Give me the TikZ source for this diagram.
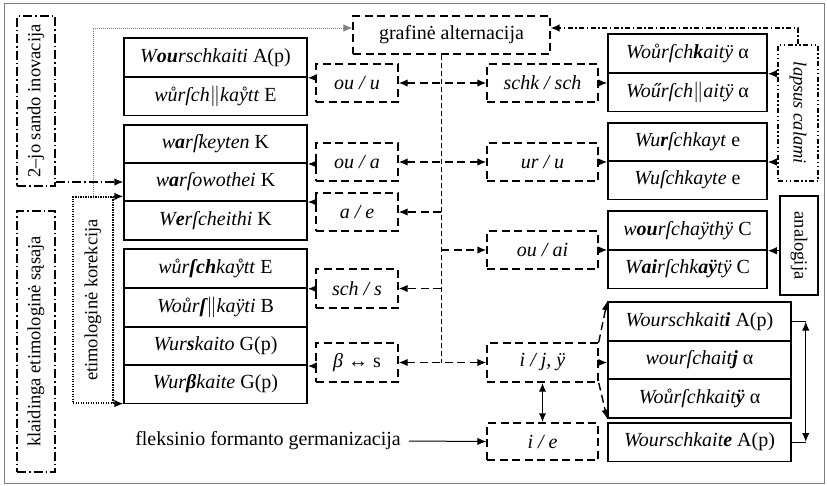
\documentclass[tikz,border=0pt]{standalone}
\usepackage{fontspec}
\setmainfont{Liberation Serif}
\usetikzlibrary{arrows.meta,calc}
\begin{document}
\begin{tikzpicture}[x=1pt,y=-1pt,
  >={Latex[length=9pt,width=7.5pt]},
  every node/.style={font=\fontsize{20}{24}\selectfont, inner sep=0pt},
  side/.style={font=\fontsize{18.5}{22}\selectfont},
  cell/.style={draw, line width=1.5pt, minimum width=183pt, minimum height=38.5pt},
  rcell/.style={cell, minimum width=159pt},
  dbox/.style={draw, line width=1.4pt, dash pattern=on 8pt off 4.5pt, minimum height=38pt},
  mlbox/.style={dbox, minimum width=82pt},
  mrbox/.style={dbox, minimum width=111pt},
  dline/.style={line width=1.4pt, dash pattern=on 8pt off 4.5pt},
  cline/.style={line width=0.7pt, dash pattern=on 5pt off 3pt},
  sline/.style={line width=1.4pt},
  ddbox/.style={draw, line width=1.2pt, dash pattern=on 9pt off 3pt on 1.5pt off 3pt},
  dddbox/.style={draw, line width=1.1pt, dash pattern=on 5pt off 2.5pt on 1.5pt off 2.5pt on 1.5pt off 2.5pt},
  dotbox/.style={draw, line width=1.2pt, dash pattern=on 1.2pt off 1.3pt},
  sbox/.style={draw, line width=1.4pt}
]
\useasboundingbox (0,0) rectangle (827,485);
\draw[gray, line width=0.8pt] (4,3) rectangle (824,483);

% left column
\node[cell, minimum height=39pt] (L1) at (215.5,57.5) {\textit{W\textbf{ou}rschkaiti} A(p)};
\node[cell] (L2) at (215.5,96) {\textit{wůrſch$\|$kaẙtt} E};
\node[cell] (L3) at (215.5,144) {\textit{w\textbf{a}rſkeyten} K};
\node[cell] (L4) at (215.5,182) {\textit{w\textbf{a}rſowothei} K};
\node[cell, minimum height=39pt] (L5) at (215.5,220.5) {\textit{W\textbf{e}rſcheithi} K};
\node[cell, minimum height=39pt] (L6) at (215.5,268.5) {\textit{wůr\textbf{ſch}kaẙtt} E};
\node[cell, minimum height=39pt] (L7) at (215.5,307.5) {\textit{Woůr\textbf{ſ}$\|$kaÿti} B};
\node[cell] (L8) at (215.5,346) {\textit{Wur\textbf{s}kaito} G(p)};
\node[cell] (L9) at (215.5,384) {\textit{Wur\textbf{β}kaite} G(p)};

% middle-left
\node[mlbox] (ML1) at (357,83) {\textit{ou / u}};
\node[mlbox] (ML2) at (357,162) {\textit{ou / a}};
\node[mlbox] (ML3) at (357,212) {\textit{a / e}};
\node[mlbox, minimum height=39pt] (ML4) at (357,288.5) {\textit{sch / s}};
\node[mlbox, minimum height=39pt] (ML5) at (357,362.5) {\textit{β} ↔ s};

% grafine
\node[dbox, minimum width=197pt] (G) at (451.5,35) {grafinė alternacija};

% middle-right
\node[mrbox] (MR1) at (542.5,83) {\textit{schk / sch}};
\node[mrbox] (MR2) at (542.5,162) {\textit{ur / u}};
\node[mrbox] (MR3) at (542.5,250) {\textit{ou / ai}};
\node[mrbox, minimum height=39pt] (MR4) at (542.5,362.5) {\textit{i / j, ÿ}};
\node[mrbox, minimum height=37pt] (MR5) at (542.5,441.5) {\textit{i / e}};

% right column
\node[rcell, minimum height=39pt] (R1a) at (687.5,53.5) {\textit{Woůrſch\textbf{k}aitÿ} α};
\node[rcell] (R1b) at (687.5,92) {\textit{Woűrſch$\|$aitÿ} α};
\node[rcell] (R2a) at (687.5,142) {\textit{Wu\textbf{r}ſchkayt} e};
\node[rcell] (R2b) at (687.5,180) {\textit{Wuſchkayte} e};
\node[rcell, minimum height=39pt] (R3a) at (687.5,230.5) {\textit{w\textbf{ou}rſchaÿthÿ} C};
\node[rcell] (R3b) at (687.5,269) {\textit{W\textbf{ai}rſchk\textbf{aÿ}tÿ} C};
\node[cell, minimum height=39pt] (R4a) at (699.5,321.5) {\textit{Wourschkait\textbf{i}} A(p)};
\node[cell] (R4b) at (699.5,360) {\textit{wourſchait\textbf{j}} α};
\node[cell, minimum height=39pt] (R4c) at (699.5,398.5) {\textit{Woůrſchkait\textbf{ÿ}} α};
\node[cell] (R5) at (699.5,442) {\textit{Wourschkait\textbf{e}} A(p)};

% side boxes
\node[dddbox, side, minimum width=40pt, minimum height=136pt] (LC) at (798,113) {\rotatebox{-90}{\textit{lapsus calami}}};
\node[sbox, side, minimum width=38pt, minimum height=99pt] (AN) at (799,245.5) {\rotatebox{-90}{analogija}};
\node[dotbox, side, minimum width=40pt, minimum height=206pt] (EK) at (93,300) {\rotatebox{90}{etimologinė korekcija}};
\node[ddbox, side, minimum width=38pt, minimum height=170pt] (IN) at (36,101) {\rotatebox{90}{2–jo sando inovacija}};
\node[ddbox, side, minimum width=38pt, minimum height=261pt] (KS) at (36,341.5) {\rotatebox{90}{klaidinga etimologinė sąsaja}};
\node[inner xsep=8pt] (FL) at (268,441) {fleksinio formanto germanizacija};

% connectors: middle-left to left column
\draw[sline,->] (ML1.west |- L1.south) -- (L1.south east);
\draw[sline,->] (ML2.west |- L3.south) -- (L3.south east);
\draw[sline,->] (ML3.west |- L4.south) -- (L4.south east);
\draw[sline,->] (ML4.west |- L6.south) -- (L6.south east);
\draw[sline,->] (ML5.west |- L8.south) -- (L8.south east);

% center line
\path (G.south) ++(-10.5,0) coordinate (ctop);
\coordinate (cbot) at (ctop |- ML5.east);
\draw[cline] (ctop) -- (cbot);
\draw[dline,<->] (ML1.east) -- (MR1.west);
\draw[dline,<->] (ML2.east) -- (MR2.west);
\draw[dline,->] (ctop |- ML3.east) -- (ML3.east);
\draw[dline,->] (ctop |- MR3.west) -- (MR3.west);
\draw[dline,->] (ctop |- ML4.east) -- (ML4.east);
\draw[dline,<->] (ML5.east) -- (MR4.west);

% middle-right to right column
\draw[sline,->] (MR1.east) -- (MR1.east -| R1b.west);
\draw[sline,->] (MR2.east) -- (MR2.east -| R2a.west);
\draw[sline,->] (MR3.east) -- (MR3.east -| R3b.west);
\draw[dline,->] (MR4.north east) -- (R4a.north west);
\draw[sline,->] (MR4.east) -- (MR4.east -| R4b.west);
\draw[dline,->] (MR4.south east) -- (R4c.south west);
\draw[line width=1.8pt,<->] (MR4.south) -- (MR5.north);
\draw[line width=1pt,->] (FL.east) -- (MR5.west);

% right side arrows
\draw[sline,->] (LC.west |- R1a.south) -- (R1a.south east);
\draw[sline,->] (LC.west |- R2a.south) -- (R2a.south east);
\draw[sline,->] (AN.west |- R3a.south) -- (R3a.south east);
\draw[line width=1.1pt, dash pattern=on 5pt off 2.5pt on 1.5pt off 2.5pt, ->] (LC.north) |- ([yshift=7pt]G.east);
\draw[line width=1pt] (R4a.east) -- ++(14,0) coordinate (ra);
\draw[line width=1pt] (R5.east) -- ++(14,0) coordinate (rb);
\draw[sline,<->] (ra) -- (rb);

% left side arrows
\draw[gray, line width=0.9pt, dash pattern=on 1pt off 1pt, ->] (EK.north) |- ([yshift=7pt]G.west);
\draw[line width=1.2pt, dash pattern=on 1.2pt off 1.3pt, ->] (EK.north east) -- (EK.north east -| L5.west);
\draw[line width=1.2pt, dash pattern=on 1.2pt off 1.3pt, ->] (EK.south east) -- (EK.south east -| L9.west);
\draw[line width=1.2pt, dash pattern=on 9pt off 3pt on 1.5pt off 3pt, ->] (IN.east |- L4.west) -- (L4.west);
\end{tikzpicture}
\end{document}
